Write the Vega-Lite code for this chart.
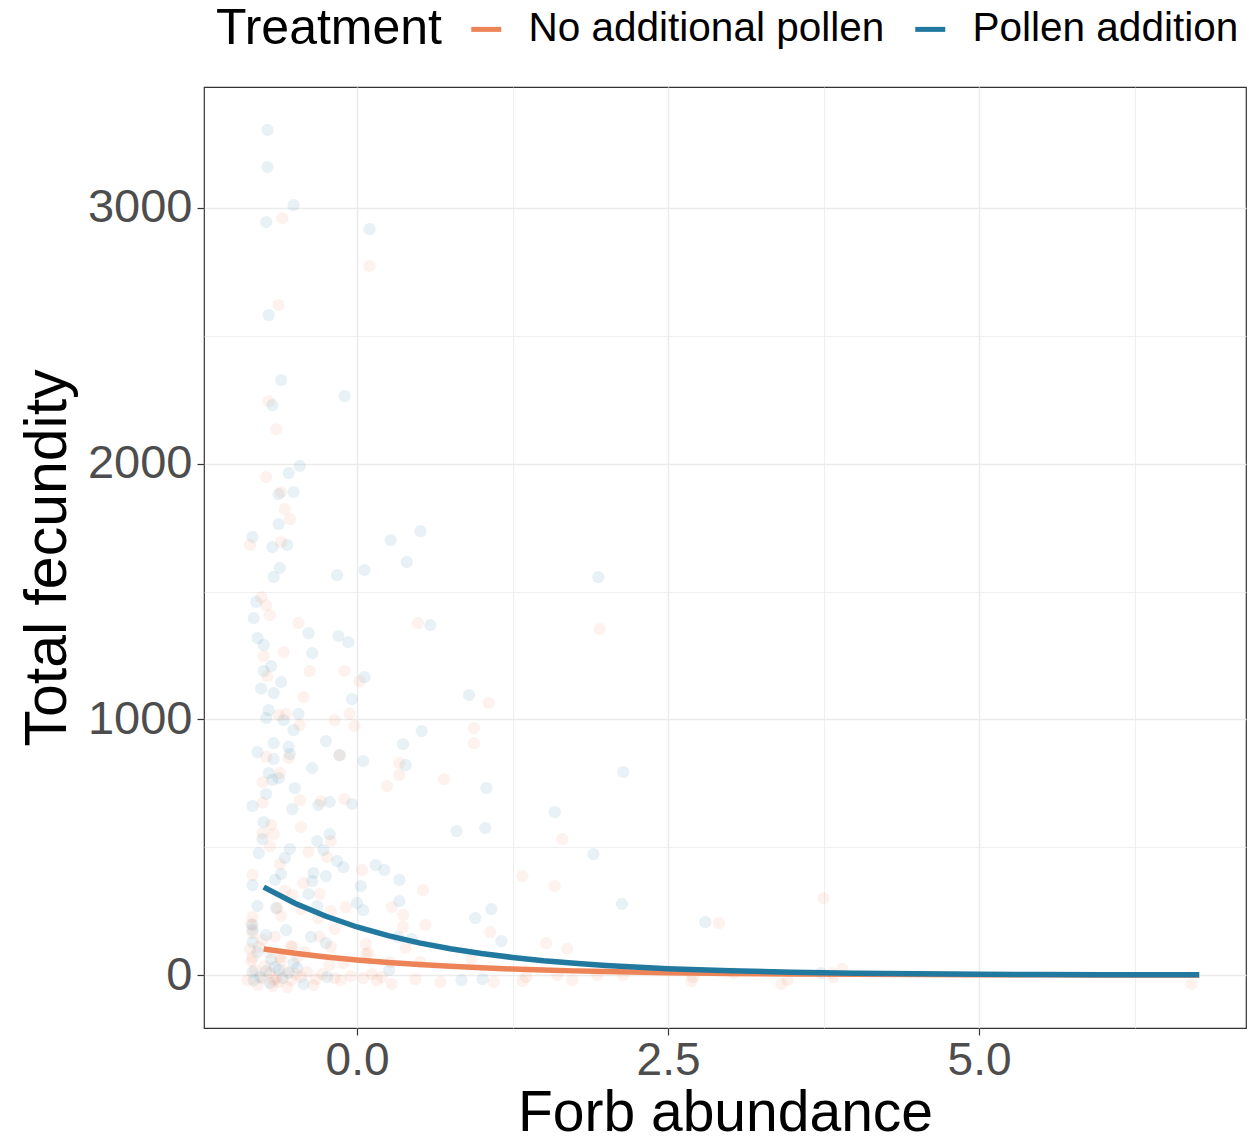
{
  "$schema": "https://vega.github.io/schema/vega-lite/v6.json",
  "width": 1042,
  "height": 941,
  "autosize": {"type": "none"},
  "padding": {"left": 204, "top": 87, "right": 4, "bottom": 115},
  "background": "white",
  "config": {
    "font": "Liberation Sans",
    "view": {"stroke": "#333333", "strokeWidth": 1.2},
    "axis": {"domain": false}
  },
  "datasets": {
    "pts": [
      {"x":-0.72,"y":3305,"t":"P"},{"x":-0.72,"y":3160,"t":"P"},{"x":-0.51,"y":3011,"t":"P"},{"x":-0.73,"y":2945,"t":"P"},{"x":0.10,"y":2917,"t":"P"},{"x":-0.71,"y":2581,"t":"P"},{"x":-0.61,"y":2327,"t":"P"},{"x":-0.68,"y":2229,"t":"P"},{"x":-0.10,"y":2264,"t":"P"},{"x":-0.46,"y":1991,"t":"P"},{"x":-0.55,"y":1963,"t":"P"},{"x":-0.63,"y":1881,"t":"P"},{"x":-0.51,"y":1889,"t":"P"},{"x":-0.63,"y":1764,"t":"P"},{"x":-0.84,"y":1713,"t":"P"},{"x":-0.68,"y":1674,"t":"P"},{"x":-0.56,"y":1682,"t":"P"},{"x":0.27,"y":1701,"t":"P"},{"x":0.51,"y":1736,"t":"P"},{"x":0.40,"y":1615,"t":"P"},{"x":0.06,"y":1584,"t":"P"},{"x":-0.16,"y":1564,"t":"P"},{"x":-0.62,"y":1592,"t":"P"},{"x":-0.67,"y":1557,"t":"P"},{"x":-0.81,"y":1459,"t":"P"},{"x":-0.83,"y":1396,"t":"P"},{"x":-0.39,"y":1337,"t":"P"},{"x":-0.15,"y":1326,"t":"P"},{"x":-0.07,"y":1302,"t":"P"},{"x":0.59,"y":1369,"t":"P"},{"x":-0.80,"y":1318,"t":"P"},{"x":-0.75,"y":1291,"t":"P"},{"x":-0.36,"y":1259,"t":"P"},{"x":-0.69,"y":1208,"t":"P"},{"x":-0.75,"y":1189,"t":"P"},{"x":0.06,"y":1165,"t":"P"},{"x":-0.61,"y":1146,"t":"P"},{"x":-0.77,"y":1120,"t":"P"},{"x":-0.67,"y":1103,"t":"P"},{"x":-0.04,"y":1079,"t":"P"},{"x":0.90,"y":1095,"t":"P"},{"x":-0.71,"y":1036,"t":"P"},{"x":-0.73,"y":1005,"t":"P"},{"x":-0.47,"y":1021,"t":"P"},{"x":-0.59,"y":997,"t":"P"},{"x":-0.51,"y":958,"t":"P"},{"x":0.52,"y":954,"t":"P"},{"x":-0.67,"y":907,"t":"P"},{"x":-0.80,"y":872,"t":"P"},{"x":-0.55,"y":892,"t":"P"},{"x":-0.54,"y":864,"t":"P"},{"x":-0.67,"y":845,"t":"P"},{"x":-0.25,"y":915,"t":"P"},{"x":-0.14,"y":860,"t":"P"},{"x":0.05,"y":837,"t":"P"},{"x":0.37,"y":903,"t":"P"},{"x":0.39,"y":821,"t":"P"},{"x":1.04,"y":731,"t":"P"},{"x":-0.36,"y":809,"t":"P"},{"x":-0.71,"y":790,"t":"P"},{"x":-0.68,"y":763,"t":"P"},{"x":-0.63,"y":770,"t":"P"},{"x":-0.50,"y":731,"t":"P"},{"x":-0.73,"y":708,"t":"P"},{"x":-0.84,"y":661,"t":"P"},{"x":-0.52,"y":649,"t":"P"},{"x":-0.31,"y":665,"t":"P"},{"x":-0.22,"y":677,"t":"P"},{"x":-0.04,"y":669,"t":"P"},{"x":-0.75,"y":598,"t":"P"},{"x":-0.76,"y":532,"t":"P"},{"x":-0.79,"y":477,"t":"P"},{"x":-0.54,"y":493,"t":"P"},{"x":-0.22,"y":551,"t":"P"},{"x":-0.32,"y":524,"t":"P"},{"x":-0.27,"y":489,"t":"P"},{"x":-0.16,"y":446,"t":"P"},{"x":-0.11,"y":422,"t":"P"},{"x":-0.58,"y":458,"t":"P"},{"x":-0.61,"y":395,"t":"P"},{"x":-0.66,"y":372,"t":"P"},{"x":-0.84,"y":352,"t":"P"},{"x":-0.35,"y":399,"t":"P"},{"x":-0.25,"y":387,"t":"P"},{"x":-0.36,"y":368,"t":"P"},{"x":0.15,"y":430,"t":"P"},{"x":0.22,"y":411,"t":"P"},{"x":0.34,"y":372,"t":"P"},{"x":0.03,"y":348,"t":"P"},{"x":-0.39,"y":317,"t":"P"},{"x":-0.80,"y":270,"t":"P"},{"x":-0.65,"y":262,"t":"P"},{"x":-0.32,"y":270,"t":"P"},{"x":0.00,"y":282,"t":"P"},{"x":0.05,"y":254,"t":"P"},{"x":0.34,"y":289,"t":"P"},{"x":0.95,"y":223,"t":"P"},{"x":1.08,"y":258,"t":"P"},{"x":-0.84,"y":176,"t":"P"},{"x":-0.84,"y":129,"t":"P"},{"x":-0.73,"y":156,"t":"P"},{"x":-0.57,"y":176,"t":"P"},{"x":-0.37,"y":149,"t":"P"},{"x":-0.25,"y":125,"t":"P"},{"x":0.33,"y":149,"t":"P"},{"x":0.44,"y":141,"t":"P"},{"x":1.16,"y":133,"t":"P"},{"x":-0.84,"y":12,"t":"P"},{"x":-0.73,"y":16,"t":"P"},{"x":-0.63,"y":20,"t":"P"},{"x":-0.51,"y":47,"t":"P"},{"x":-0.43,"y":-35,"t":"P"},{"x":-0.24,"y":-8,"t":"P"},{"x":0.26,"y":20,"t":"P"},{"x":0.84,"y":-20,"t":"P"},{"x":1.01,"y":-16,"t":"P"},{"x":1.94,"y":1556,"t":"P"},{"x":0.80,"y":563,"t":"P"},{"x":1.03,"y":575,"t":"P"},{"x":1.59,"y":637,"t":"P"},{"x":2.14,"y":794,"t":"P"},{"x":1.90,"y":473,"t":"P"},{"x":2.13,"y":278,"t":"P"},{"x":2.80,"y":207,"t":"P"},{"x":3.73,"y":8,"t":"P"},{"x":-0.84,"y":196,"t":"P"},{"x":-0.83,"y":-20,"t":"P"},{"x":-0.78,"y":-8,"t":"P"},{"x":-0.70,"y":-31,"t":"P"},{"x":-0.66,"y":31,"t":"P"},{"x":-0.60,"y":-12,"t":"P"},{"x":-0.55,"y":8,"t":"P"},{"x":-0.48,"y":27,"t":"P"},{"x":-0.80,"y":90,"t":"P"},{"x":-0.69,"y":60,"t":"P"},
      {"x":-0.60,"y":2960,"t":"N"},{"x":0.10,"y":2773,"t":"N"},{"x":-0.63,"y":2620,"t":"N"},{"x":-0.71,"y":2245,"t":"N"},{"x":-0.65,"y":2135,"t":"N"},{"x":-0.73,"y":1948,"t":"N"},{"x":-0.61,"y":1889,"t":"N"},{"x":-0.58,"y":1822,"t":"N"},{"x":-0.54,"y":1783,"t":"N"},{"x":-0.86,"y":1682,"t":"N"},{"x":-0.61,"y":1693,"t":"N"},{"x":-0.77,"y":1478,"t":"N"},{"x":-0.73,"y":1447,"t":"N"},{"x":-0.70,"y":1408,"t":"N"},{"x":-0.47,"y":1377,"t":"N"},{"x":0.49,"y":1377,"t":"N"},{"x":-0.59,"y":1263,"t":"N"},{"x":-0.75,"y":1248,"t":"N"},{"x":-0.72,"y":1169,"t":"N"},{"x":-0.38,"y":1189,"t":"N"},{"x":-0.10,"y":1189,"t":"N"},{"x":0.02,"y":1150,"t":"N"},{"x":-0.43,"y":1087,"t":"N"},{"x":1.06,"y":1064,"t":"N"},{"x":-0.63,"y":1017,"t":"N"},{"x":-0.57,"y":1021,"t":"N"},{"x":-0.46,"y":978,"t":"N"},{"x":-0.18,"y":997,"t":"N"},{"x":-0.06,"y":1021,"t":"N"},{"x":-0.02,"y":974,"t":"N"},{"x":0.94,"y":966,"t":"N"},{"x":0.94,"y":907,"t":"N"},{"x":-0.73,"y":853,"t":"N"},{"x":-0.55,"y":849,"t":"N"},{"x":-0.14,"y":860,"t":"N"},{"x":0.34,"y":829,"t":"N"},{"x":0.34,"y":782,"t":"N"},{"x":0.70,"y":766,"t":"N"},{"x":0.24,"y":739,"t":"N"},{"x":-0.76,"y":755,"t":"N"},{"x":-0.62,"y":790,"t":"N"},{"x":-0.76,"y":673,"t":"N"},{"x":-0.46,"y":684,"t":"N"},{"x":-0.29,"y":680,"t":"N"},{"x":-0.10,"y":688,"t":"N"},{"x":-0.69,"y":587,"t":"N"},{"x":-0.45,"y":579,"t":"N"},{"x":-0.76,"y":555,"t":"N"},{"x":-0.67,"y":551,"t":"N"},{"x":-0.70,"y":504,"t":"N"},{"x":-0.21,"y":524,"t":"N"},{"x":-0.39,"y":481,"t":"N"},{"x":-0.24,"y":461,"t":"N"},{"x":-0.62,"y":434,"t":"N"},{"x":-0.84,"y":391,"t":"N"},{"x":-0.43,"y":360,"t":"N"},{"x":0.04,"y":411,"t":"N"},{"x":0.53,"y":332,"t":"N"},{"x":-0.58,"y":329,"t":"N"},{"x":-0.52,"y":313,"t":"N"},{"x":-0.30,"y":317,"t":"N"},{"x":-0.45,"y":258,"t":"N"},{"x":-0.61,"y":231,"t":"N"},{"x":-0.21,"y":250,"t":"N"},{"x":-0.09,"y":266,"t":"N"},{"x":0.28,"y":266,"t":"N"},{"x":0.37,"y":235,"t":"N"},{"x":0.55,"y":196,"t":"N"},{"x":1.07,"y":168,"t":"N"},{"x":-0.84,"y":227,"t":"N"},{"x":-0.85,"y":199,"t":"N"},{"x":-0.76,"y":137,"t":"N"},{"x":-0.21,"y":110,"t":"N"},{"x":0.07,"y":121,"t":"N"},{"x":-0.53,"y":113,"t":"N"},{"x":0.39,"y":106,"t":"N"},{"x":-0.85,"y":55,"t":"N"},{"x":-0.67,"y":-20,"t":"N"},{"x":-0.80,"y":-39,"t":"N"},{"x":-0.35,"y":-39,"t":"N"},{"x":-0.13,"y":-20,"t":"N"},{"x":0.07,"y":82,"t":"N"},{"x":0.16,"y":-20,"t":"N"},{"x":0.28,"y":-35,"t":"N"},{"x":0.51,"y":51,"t":"N"},{"x":0.67,"y":-27,"t":"N"},{"x":0.47,"y":-16,"t":"N"},{"x":1.10,"y":-27,"t":"N"},{"x":0.92,"y":63,"t":"N"},{"x":-0.61,"y":59,"t":"N"},{"x":-0.88,"y":-20,"t":"N"},{"x":1.95,"y":1353,"t":"N"},{"x":1.65,"y":532,"t":"N"},{"x":1.33,"y":387,"t":"N"},{"x":1.59,"y":348,"t":"N"},{"x":1.52,"y":125,"t":"N"},{"x":1.69,"y":102,"t":"N"},{"x":2.91,"y":203,"t":"N"},{"x":3.75,"y":300,"t":"N"},{"x":1.36,"y":-8,"t":"N"},{"x":1.61,"y":0,"t":"N"},{"x":1.73,"y":-20,"t":"N"},{"x":1.93,"y":0,"t":"N"},{"x":2.14,"y":0,"t":"N"},{"x":2.70,"y":-8,"t":"N"},{"x":3.03,"y":8,"t":"N"},{"x":3.46,"y":-20,"t":"N"},{"x":3.83,"y":-8,"t":"N"},{"x":6.71,"y":-35,"t":"N"},{"x":2.69,"y":-23,"t":"N"},{"x":3.41,"y":-35,"t":"N"},{"x":3.90,"y":23,"t":"N"},{"x":3.82,"y":8,"t":"N"},{"x":0.27,"y":51,"t":"N"},{"x":0.09,"y":86,"t":"N"},{"x":-0.11,"y":47,"t":"N"},{"x":-0.22,"y":39,"t":"N"},{"x":-0.56,"y":-47,"t":"N"},{"x":0.05,"y":-12,"t":"N"},{"x":-0.65,"y":-12,"t":"N"},{"x":-0.52,"y":109,"t":"N"},{"x":-0.62,"y":70,"t":"N"},{"x":-0.84,"y":70,"t":"N"},{"x":-0.84,"y":164,"t":"N"},{"x":-0.64,"y":262,"t":"N"},{"x":-0.31,"y":223,"t":"N"},{"x":0.37,"y":188,"t":"N"},{"x":1.33,"y":-23,"t":"N"},{"x":-0.82,"y":20,"t":"N"},{"x":-0.76,"y":-12,"t":"N"},{"x":-0.74,"y":35,"t":"N"},{"x":-0.70,"y":8,"t":"N"},{"x":-0.68,"y":-43,"t":"N"},{"x":-0.63,"y":-27,"t":"N"},{"x":-0.58,"y":16,"t":"N"},{"x":-0.53,"y":-20,"t":"N"},{"x":-0.49,"y":4,"t":"N"},{"x":-0.45,"y":-8,"t":"N"},{"x":-0.40,"y":12,"t":"N"},{"x":-0.33,"y":-16,"t":"N"},{"x":-0.28,"y":4,"t":"N"},{"x":-0.18,"y":-12,"t":"N"},{"x":-0.05,"y":-4,"t":"N"},{"x":0.12,"y":4,"t":"N"},{"x":0.20,"y":-8,"t":"N"},{"x":-0.86,"y":100,"t":"N"},{"x":-0.79,"y":110,"t":"N"},{"x":-0.71,"y":90,"t":"N"},{"x":-0.66,"y":150,"t":"N"},{"x":-0.48,"y":70,"t":"N"},{"x":-0.42,"y":90,"t":"N"},{"x":-0.30,"y":150,"t":"N"},{"x":-0.18,"y":180,"t":"N"}
    ],
    "fit": [
      {"x":-0.75,"y":102,"t":"N"},{"x":-0.5,"y":85,"t":"N"},{"x":-0.25,"y":70.8,"t":"N"},{"x":0,"y":59,"t":"N"},{"x":0.25,"y":49.2,"t":"N"},{"x":0.5,"y":41,"t":"N"},{"x":0.75,"y":34.1,"t":"N"},{"x":1.0,"y":28.4,"t":"N"},{"x":1.25,"y":23.7,"t":"N"},{"x":1.5,"y":19.7,"t":"N"},{"x":1.75,"y":16.4,"t":"N"},{"x":2.0,"y":13.7,"t":"N"},{"x":2.5,"y":9.5,"t":"N"},{"x":3.0,"y":6.6,"t":"N"},{"x":3.5,"y":4.6,"t":"N"},{"x":4.0,"y":3.2,"t":"N"},{"x":4.5,"y":2.2,"t":"N"},{"x":5.0,"y":1.5,"t":"N"},{"x":5.5,"y":1.1,"t":"N"},{"x":6.0,"y":0.7,"t":"N"},{"x":6.5,"y":0.5,"t":"N"},{"x":6.77,"y":0.4,"t":"N"},
      {"x":-0.75,"y":344,"t":"P"},{"x":-0.5,"y":281,"t":"P"},{"x":-0.25,"y":230,"t":"P"},{"x":0,"y":188,"t":"P"},{"x":0.25,"y":154,"t":"P"},{"x":0.5,"y":126,"t":"P"},{"x":0.75,"y":103,"t":"P"},{"x":1.0,"y":84,"t":"P"},{"x":1.25,"y":69,"t":"P"},{"x":1.5,"y":56,"t":"P"},{"x":1.75,"y":46,"t":"P"},{"x":2.0,"y":37.6,"t":"P"},{"x":2.5,"y":25,"t":"P"},{"x":3.0,"y":16.8,"t":"P"},{"x":3.5,"y":11.2,"t":"P"},{"x":4.0,"y":7.5,"t":"P"},{"x":4.5,"y":5.0,"t":"P"},{"x":5.0,"y":3.4,"t":"P"},{"x":5.5,"y":2.2,"t":"P"},{"x":6.0,"y":1.5,"t":"P"},{"x":6.5,"y":1.0,"t":"P"},{"x":6.77,"y":0.8,"t":"P"}
    ]
  },
  "encoding": {
    "x": {
      "field": "x", "type": "quantitative",
      "scale": {"domain": [-1.23, 7.146], "nice": false, "zero": false},
      "axis": {
        "title": "Forb abundance",
        "titleFont": "Liberation Sans", "titleFontSize": 57, "titleFontWeight": "normal", "titleColor": "black",
        "titleBaseline": "alphabetic", "titleY": 102,
        "values": [-1.25, 0, 1.25, 2.5, 3.75, 5, 6.25],
        "labelExpr": "datum.value == 0 ? '0.0' : datum.value == 2.5 ? '2.5' : datum.value == 5 ? '5.0' : ''",
        "labelFont": "Liberation Sans", "labelFontSize": 46, "labelColor": "#4D4D4D", "labelPadding": 3,
        "tickSize": 7, "tickColor": "#333333", "tickWidth": 1.2,
        "tickOpacity": {"condition": {"test": "datum.value == 0 || datum.value == 2.5 || datum.value == 5", "value": 1}, "value": 0},
        "gridColor": "#EBEBEB",
        "gridWidth": {"condition": {"test": "datum.value == 0 || datum.value == 2.5 || datum.value == 5", "value": 1.5}, "value": 0.8}
      }
    },
    "y": {
      "field": "y", "type": "quantitative",
      "scale": {"domain": [-207, 3473], "nice": false, "zero": false},
      "axis": {
        "title": "Total fecundity",
        "titleFont": "Liberation Sans", "titleFontSize": 59, "titleFontWeight": "normal", "titleColor": "black", "titlePadding": 10,
        "values": [0, 500, 1000, 1500, 2000, 2500, 3000],
        "labelExpr": "datum.value % 1000 == 0 ? datum.label : ''",
        "format": "d",
        "labelFont": "Liberation Sans", "labelFontSize": 47, "labelColor": "#4D4D4D", "labelPadding": 5,
        "tickSize": 7, "tickColor": "#333333", "tickWidth": 1.2,
        "tickOpacity": {"condition": {"test": "datum.value % 1000 == 0", "value": 1}, "value": 0},
        "gridColor": "#EBEBEB",
        "gridWidth": {"condition": {"test": "datum.value % 1000 == 0", "value": 1.5}, "value": 0.8}
      }
    },
    "color": {
      "field": "t", "type": "nominal",
      "scale": {"domain": ["N", "P"], "range": ["#ED8457", "#22799F"]},
      "legend": {
        "title": "Treatment",
        "orient": "none", "legendX": 12, "legendY": -78,
        "direction": "horizontal", "titleOrient": "left",
        "titleFont": "Liberation Sans", "titleFontSize": 50, "titleFontWeight": "normal", "titleColor": "black", "titlePadding": 23, "titleLimit": 0,
        "labelExpr": "datum.label == 'N' ? 'No additional pollen' : 'Pollen addition'",
        "labelFont": "Liberation Sans", "labelFontSize": 40.5, "labelColor": "black", "labelOffset": 22, "labelLimit": 0,
        "symbolType": "stroke", "symbolSize": 900, "symbolStrokeWidth": 5, "symbolOpacity": 1,
        "columnPadding": 20, "titleAnchor": "middle", "titleBaseline": "middle"
      }
    }
  },
  "layer": [
    {
      "data": {"name": "pts"},
      "mark": {"type": "circle", "size": 150, "opacity": 0.1, "strokeWidth": 0, "clip": true}
    },
    {
      "data": {"name": "fit"},
      "mark": {"type": "line", "strokeWidth": 5.5, "clip": true}
    }
  ]
}
